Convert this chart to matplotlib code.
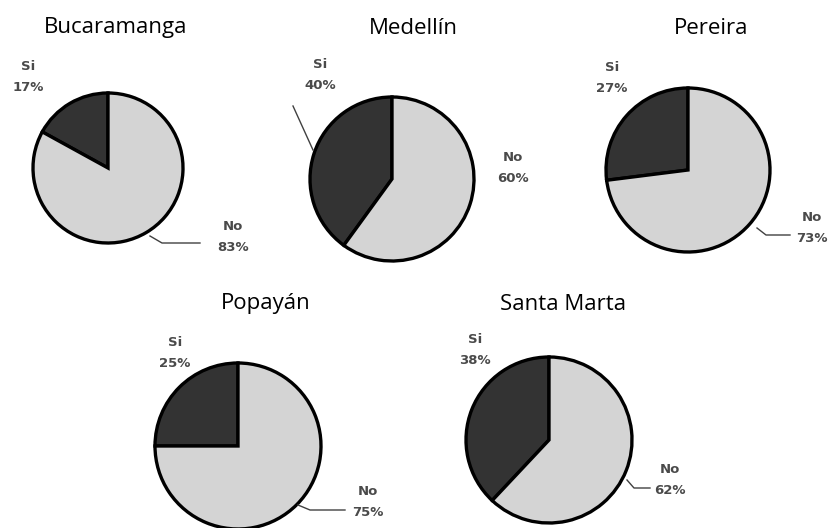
import matplotlib

matplotlib.use("Agg")
import matplotlib.pyplot as plt

# Datos: respuesta "Si" / "No" por ciudad (porcentajes)
ciudades = ["Bucaramanga", "Medellín", "Pereira", "Popayán", "Santa Marta"]
pct_si = [17, 40, 27, 25, 38]
pct_no = [83, 60, 73, 75, 62]
etiquetas = ["Si", "No"]

# Disposición en píxeles (origen arriba a la izquierda)
ANCHO, ALTO = 831, 528
centros = [(108, 168), (392, 179), (688, 170), (238, 446), (549, 440)]
radios = [75, 82, 82, 83, 83]
pos_titulos = [(116, 28), (413, 28), (711, 28), (266, 304), (563, 305)]
pos_si = [(28, 77), (320, 75), (612, 78), (175, 353), (475, 350)]
pos_no = [(233, 237), (513, 168), (812, 228), (368, 502), (670, 480)]
# líneas guía (desde el borde del pastel hasta la etiqueta)
guias = [
    [(150, 236), (162, 243), (200, 243)],
    [(313, 150), (293, 106)],
    [(757, 228), (766, 235), (790, 235)],
    [(298, 505), (310, 510), (345, 510)],
    [(627, 480), (634, 488), (650, 488)],
]

COLOR_SI = "#333333"
COLOR_NO = "#d4d4d4"


def px(x, y):
    return x, ALTO - y


fig = plt.figure(figsize=(ANCHO / 100, ALTO / 100), dpi=100)
ax = fig.add_axes([0, 0, 1, 1])

for i, ciudad in enumerate(ciudades):
    ax.pie(
        [pct_si[i], pct_no[i]],
        colors=[COLOR_SI, COLOR_NO],
        startangle=90,
        counterclock=True,
        center=px(*centros[i]),
        radius=radios[i],
        wedgeprops={"edgecolor": "black", "linewidth": 2.4},
    )
    ax.text(*px(*pos_titulos[i]), ciudad, ha="center", va="center",
            fontsize=16, family="Open Sans", color="black")
    ax.text(*px(*pos_si[i]), f"{etiquetas[0]}\n{pct_si[i]}%", ha="center", va="center",
            fontsize=9.5, family="DejaVu Sans", fontweight="bold", color="#4a4a4a",
            linespacing=1.75)
    ax.text(*px(*pos_no[i]), f"{etiquetas[1]}\n{pct_no[i]}%", ha="center", va="center",
            fontsize=9.5, family="DejaVu Sans", fontweight="bold", color="#4a4a4a",
            linespacing=1.75)
    xs, ys = zip(*[px(*p) for p in guias[i]])
    ax.plot(xs, ys, color="#404040", linewidth=1.0)

ax.set_xlim(0, ANCHO)
ax.set_ylim(0, ALTO)
ax.set_aspect("equal")
ax.axis("off")

fig.savefig("out.png", dpi=100)
plt.close("all")
